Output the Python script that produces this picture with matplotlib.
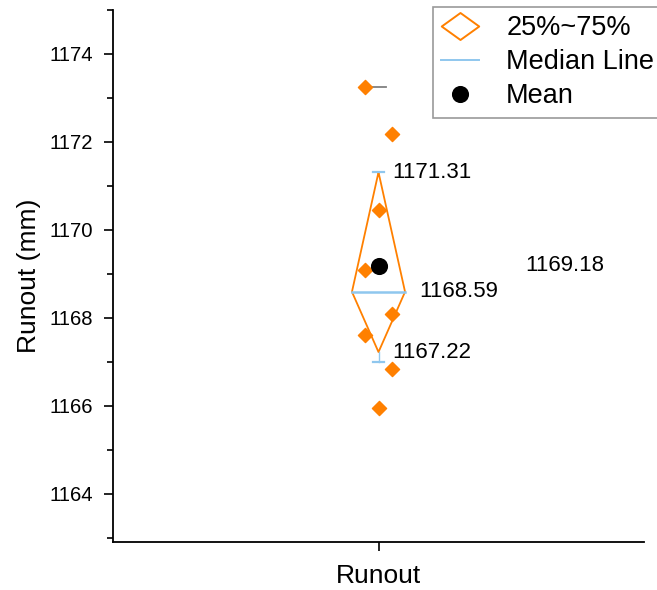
import numpy as np
import matplotlib.pyplot as plt
from matplotlib.lines import Line2D
from matplotlib.path import Path
from matplotlib.ticker import MultipleLocator

plt.rcParams['font.family'] = ['Liberation Sans', 'DejaVu Sans']

# data
runout = [1173.25, 1172.18, 1170.44, 1169.09, 1168.09, 1167.60, 1166.84, 1165.95]
jitter = [-1, 1, 0, -1, 1, -1, 1, 0]
q1 = 1167.22
q3 = 1171.31
median = 1168.59
mean = 1169.18
whisk_low = 1167.00
whisk_high = 1171.31
top_line = 1173.25
category = 'Runout'

orange = '#FF8000'
blue = '#8FC7EE'

fig = plt.figure(figsize=(6.57, 5.90), dpi=100)
ax = fig.add_axes([113/657, 48/590, 531/657, 532/590])

xc = 1.0
dx = 0.0245
hw = 0.05

# diamond box
ax.plot([xc, xc + hw, xc, xc - hw, xc], [q3, median, q1, median, q3], color=orange, lw=1.3, zorder=2)
# median line
ax.plot([xc - hw, xc + hw], [median, median], color=blue, lw=1.8, zorder=3)
# whisker caps
ax.plot([xc, xc], [whisk_high, q3], color=blue, lw=1)
ax.plot([xc - 0.011, xc + 0.011], [whisk_high, whisk_high], color=blue, lw=1.6)
ax.plot([xc, xc], [whisk_low, q1], color=blue, lw=1)
ax.plot([xc - 0.011, xc + 0.011], [whisk_low, whisk_low], color=blue, lw=1.6)
# short gray line at top
ax.plot([xc - 0.025, xc + 0.0145], [top_line, top_line], color='gray', lw=1.3, zorder=1)

# data points
xs = xc + np.array(jitter) * dx
ax.scatter(xs, runout, marker='D', s=52, color=orange, edgecolors=orange, zorder=4)
# mean
ax.scatter([xc], [mean], marker='o', s=128, color='black', zorder=5)

# labels
lab_fs = 16
ax.text(xc + 0.025, q3, '%.2f' % q3, fontsize=lab_fs, va='center', ha='left')
ax.text(xc + 0.025, q1, '%.2f' % q1, fontsize=lab_fs, va='center', ha='left')
ax.text(xc + 0.077, median, '%.2f' % median, fontsize=lab_fs, va='center', ha='left')
ax.text(xc + 0.276, mean, '%.2f' % mean, fontsize=lab_fs, va='center', ha='left')

ax.set_xlim(0.5, 1.5)
ax.set_ylim(1162.9, 1175)
ax.set_xticks([xc])
ax.set_xticklabels([category], fontsize=19)
ax.yaxis.set_major_locator(MultipleLocator(2))
ax.yaxis.set_minor_locator(MultipleLocator(1))
ax.tick_params(axis='y', which='major', labelsize=14.6, length=6.5, width=1.2, pad=8)
ax.tick_params(axis='y', which='minor', length=4, width=1.2)
ax.tick_params(axis='x', length=6.5, width=1.2, pad=9)
ax.set_ylabel('Runout (mm)', fontsize=19, labelpad=6)
ax.spines['top'].set_visible(False)
ax.spines['right'].set_visible(False)
ax.spines['left'].set_linewidth(1.3)
ax.spines['bottom'].set_linewidth(1.3)

wide_diamond = Path([(-1, 0), (0, 0.72), (1, 0), (0, -0.72), (-1, 0)],
                    [Path.MOVETO, Path.LINETO, Path.LINETO, Path.LINETO, Path.CLOSEPOLY])
handles = [
    Line2D([], [], marker=wide_diamond, ls='none', markersize=27, markerfacecolor='none',
           markeredgecolor=orange, markeredgewidth=1.4),
    Line2D([], [], color=blue, lw=1.4),
    Line2D([], [], marker='o', ls='none', markersize=11.3, color='black'),
]
leg = fig.legend(handles, ['25%~75%', 'Median Line', 'Mean'], loc='upper left',
                 bbox_to_anchor=(433/657, 1 - 7/590), borderaxespad=0, fontsize=19.5,
                 frameon=True, fancybox=False, edgecolor='#808080', handlelength=1.4,
                 labelspacing=0.3, borderpad=0.3, handletextpad=1.0)
leg.get_frame().set_linewidth(1.2)

fig.savefig('out.png', dpi=100)
